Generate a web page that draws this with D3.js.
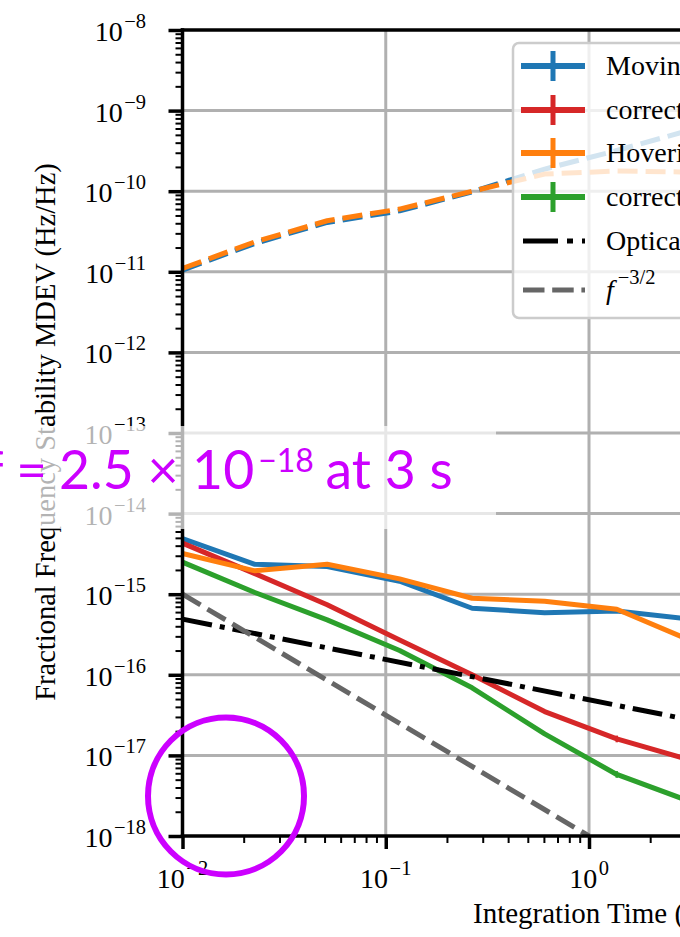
<!DOCTYPE html>
<html><head><meta charset="utf-8">
<script src="https://cdn.jsdelivr.net/npm/d3@7/dist/d3.min.js"></script>
<style>html,body{margin:0;padding:0;background:#fff;overflow:hidden}</style>
</head><body>
<svg id="c" width="680" height="937" xmlns="http://www.w3.org/2000/svg"></svg>
<script>
// ---------------- data ----------------
const taus = [0.01, 0.0227, 0.0515, 0.117, 0.266, 0.605, 1.37, 3.12];
const movingMdev      = [4.9e-15, 2.35e-15, 2.2e-15, 1.45e-15, 6.7e-16, 5.9e-16, 6.2e-16, 4.9e-16];
const movingCorrected = [4.3e-15, 1.8e-15, 7.4e-16, 2.7e-16, 1.0e-16, 3.5e-17, 1.6e-17, 8.8e-18];
const hoveringMdev    = [3.2e-15, 1.95e-15, 2.35e-15, 1.55e-15, 8.9e-16, 8.2e-16, 6.5e-16, 2.7e-16];
const hoveringCorrected = [2.5e-15, 1.05e-15, 4.8e-16, 2.0e-16, 6.9e-17, 1.85e-17, 5.8e-18, 2.7e-18];
const relErrCorrected = [0, 0, 0, 0, 0, 0, 0.1, 0.15];
const movingRaw   = [1.05e-11, 2.25e-11, 4.1e-11, 5.7e-11, 0.98e-10, 1.88e-10, 3.2e-10, 5.7e-10];
const hoveringRaw = [1.1e-11, 2.35e-11, 4.3e-11, 6.0e-11, 1.0e-10, 1.63e-10, 1.78e-10, 1.73e-10];
const opticalTaus = [0.01, 3.12];
const opticalMdev = [4.9e-16, 2.77e-17];
const slopeTaus = [0.01, 1];
const slopeMdev = [1e-15, 1e-18];

const yMajorExps = [-18, -17, -16, -15, -14, -13, -12, -11, -10, -9, -8];
const xMajorExps = [-2, -1, 0];
const legendLabels = ["Moving platform", "corrected moving", "Hovering", "corrected hovering", "Optical cavity", "f^-3/2"];
const yTitle = "Fractional Frequency Stability MDEV (Hz/Hz)";
const xTitle = "Integration Time (s)";
const noteMain = "2.5 \u00d7 10";
const noteSup = "\u221218";
const noteTail = " at 3 s";
const notePrefix = "\u0394f/f =";

// ---------------- layout ----------------
const W = 680, H = 937;
const X0 = 182.5, X1 = 589, Y0 = 30, Y1 = 836;
const x = d3.scaleLog().domain([1e-2, 1]).range([X0, X1]);
const y = d3.scaleLog().domain([1e-18, 1e-8]).range([Y1, Y0]);
const serif = "'Liberation Serif','Times New Roman',serif";
const FS = 28, FSUP = 20.5;
const C = {blue: "#1f77b4", red: "#d62728", orange: "#ff7f0e", green: "#2ca02c", grid: "#b0b0b0", gray: "#666666", mag: "#cc00ff"};

const svg = d3.select("#c");
svg.append("rect").attr("width", W).attr("height", H).attr("fill", "#fff");
svg.append("defs").append("clipPath").attr("id", "plot")
  .append("rect").attr("x", X0).attr("y", Y0).attr("width", 700).attr("height", Y1 - Y0);

// grid
const grid = svg.append("g").attr("stroke", C.grid).attr("stroke-width", 3);
grid.selectAll("line.h").data(yMajorExps.slice(1, -1)).join("line")
  .attr("x1", X0).attr("x2", W + 10)
  .attr("y1", d => y(Math.pow(10, d))).attr("y2", d => y(Math.pow(10, d)));
grid.selectAll("line.v").data(xMajorExps.slice(1)).join("line")
  .attr("y1", Y0).attr("y2", Y1)
  .attr("x1", d => x(Math.pow(10, d))).attr("x2", d => x(Math.pow(10, d)));

// lines
const plot = svg.append("g").attr("clip-path", "url(#plot)");
const line = d3.line().x(d => x(d[0])).y(d => y(d[1]));
const zip = (a, b) => a.map((t, i) => [t, b[i]]);

function draw(vals, color, width, dash, ts = taus) {
  plot.append("path").datum(zip(ts, vals)).attr("d", line)
    .attr("fill", "none").attr("stroke", color).attr("stroke-width", width)
    .attr("stroke-linejoin", "round")
    .attr("stroke-dasharray", dash || null);
}
function errs(vals, rel, color) {
  plot.append("g").selectAll("line").data(zip(taus, vals).map((d, i) => [d[0], d[1], rel[i]]).filter(d => d[2] > 0))
    .join("line")
    .attr("x1", d => x(d[0])).attr("x2", d => x(d[0]))
    .attr("y1", d => y(d[1] * (1 + d[2]))).attr("y2", d => y(d[1] / (1 + d[2])))
    .attr("stroke", color).attr("stroke-width", 2.5);
}
draw(movingRaw, C.blue, 5, "20 8");
draw(hoveringRaw, C.orange, 5, "20 8");
draw(movingMdev, C.blue, 5);
draw(movingCorrected, C.red, 5); errs(movingCorrected, relErrCorrected, C.red);
draw(hoveringMdev, C.orange, 5);
draw(hoveringCorrected, C.green, 5); errs(hoveringCorrected, relErrCorrected, C.green);
draw(opticalMdev, "#000", 5, "30 8 5 8", opticalTaus);
draw(slopeMdev, C.gray, 5, "21 8", slopeTaus);

// axes ticks
const yMinor = [], xMinor = [];
yMajorExps.slice(0, -1).forEach(e => { for (let k = 2; k <= 9; k++) yMinor.push(k * Math.pow(10, e)); });
xMajorExps.forEach(e => { for (let k = 2; k <= 9; k++) { const v = k * Math.pow(10, e); if (v < 3) xMinor.push(v); } });
const yMaj = yMajorExps.map(e => Math.pow(10, e));
const xMaj = xMajorExps.map(e => Math.pow(10, e));

function styleAxis(g, w) {
  g.select(".domain").remove();
  g.selectAll(".tick line").attr("stroke", "#000").attr("stroke-width", w);
  g.selectAll(".tick text").remove();
}
svg.append("g").attr("transform", `translate(${X0},0)`)
  .call(d3.axisLeft(y).tickValues(yMinor).tickSize(7).tickFormat("")).call(g => styleAxis(g, 2));
svg.append("g").attr("transform", `translate(${X0},0)`)
  .call(d3.axisLeft(y).tickValues(yMaj).tickSize(14).tickFormat("")).call(g => styleAxis(g, 3.5));
svg.append("g").attr("transform", `translate(0,${Y1})`)
  .call(d3.axisBottom(x).tickValues(xMinor).tickSize(7).tickFormat("")).call(g => styleAxis(g, 2));
svg.append("g").attr("transform", `translate(0,${Y1})`)
  .call(d3.axisBottom(x).tickValues(xMaj).tickSize(13).tickFormat("")).call(g => styleAxis(g, 3.5));

// spines
const sp = svg.append("g").attr("stroke", "#000").attr("stroke-width", 3.5).attr("stroke-linecap", "square");
sp.append("line").attr("x1", X0).attr("x2", X0).attr("y1", Y0).attr("y2", Y1);
sp.append("line").attr("x1", X0).attr("x2", W + 10).attr("y1", Y0).attr("y2", Y0);
sp.append("line").attr("x1", X0).attr("x2", W + 10).attr("y1", Y1).attr("y2", Y1);

// tick labels
const yl = svg.append("g").attr("font-family", serif).attr("fill", "#000");
yMajorExps.forEach(e => {
  const t = yl.append("text").attr("x", 146).attr("y", y(Math.pow(10, e)) + 11)
    .attr("text-anchor", "end").attr("font-size", FS);
  t.append("tspan").text("10");
  t.append("tspan").attr("font-size", FSUP).attr("dy", -13).attr("dx", 1.5).text("\u2212" + Math.abs(e));
});
xMajorExps.forEach(e => {
  const t = yl.append("text").attr("x", x(Math.pow(10, e))).attr("y", 888)
    .attr("text-anchor", "middle").attr("font-size", FS);
  t.append("tspan").text("10");
  t.append("tspan").attr("font-size", FSUP).attr("dy", -13).attr("dx", 1.5).text(e < 0 ? "\u2212" + Math.abs(e) : String(e));
});

// axis titles
svg.append("text").attr("font-family", serif).attr("font-size", 28.5)
  .attr("transform", `translate(55,432) rotate(-90)`).attr("text-anchor", "middle").text(yTitle);
svg.append("text").attr("font-family", serif).attr("font-size", 29)
  .attr("x", 473).attr("y", 923).text(xTitle);

// legend
const lg = svg.append("g");
lg.append("rect").attr("x", 513).attr("y", 43).attr("width", 400).attr("height", 275).attr("rx", 6)
  .attr("fill", "#fff").attr("fill-opacity", 0.8).attr("stroke", "#cccccc").attr("stroke-width", 2.5);
const rowY = [66, 110, 153, 197, 241, 290];
const handleColors = [C.blue, C.red, C.orange, C.green];
legendLabels.forEach((lab, i) => {
  const cy = rowY[i];
  if (i < 4) {
    lg.append("line").attr("x1", 521).attr("x2", 585).attr("y1", cy).attr("y2", cy)
      .attr("stroke", handleColors[i]).attr("stroke-width", 6);
    lg.append("line").attr("x1", 553).attr("x2", 553).attr("y1", cy - 15).attr("y2", cy + 15)
      .attr("stroke", handleColors[i]).attr("stroke-width", 5);
  } else {
    lg.append("line").attr("x1", 523).attr("x2", 585).attr("y1", cy).attr("y2", cy)
      .attr("stroke", i === 4 ? "#000" : C.gray).attr("stroke-width", 5)
      .attr("stroke-dasharray", i === 4 ? "35 9 6 9" : "21.5 7.7");
  }
  const t = lg.append("text").attr("font-family", serif).attr("font-size", FS).attr("x", 606).attr("y", cy + 9);
  if (lab.startsWith("f^")) {
    t.append("tspan").attr("font-style", "italic").text("f");
    t.append("tspan").attr("font-size", FSUP).attr("dy", -15).attr("dx", 4).text("\u22123/2");
  } else t.text(lab);
});

// annotation overlay
svg.append("rect").attr("x", 0).attr("y", 426).attr("width", 496).attr("height", 103)
  .attr("fill", "#fff").attr("fill-opacity", 0.7);
const sans = "Lato, 'Open Sans', sans-serif";
svg.append("text").attr("font-family", sans).attr("font-size", 53).attr("fill", C.mag)
  .attr("x", 47).attr("y", 489).attr("text-anchor", "end").text(notePrefix);
const nt = svg.append("text").attr("font-family", sans).attr("font-size", 53.5).attr("fill", C.mag)
  .attr("x", 59).attr("y", 489);
nt.append("tspan").text(noteMain);
nt.append("tspan").attr("font-size", 32).attr("dy", -17).attr("dx", 4).text(noteSup);
nt.append("tspan").attr("dy", 17).attr("dx", -2).text(noteTail);

svg.append("ellipse").attr("cx", 226).attr("cy", 796).attr("rx", 78).attr("ry", 78.5)
  .attr("fill", "none").attr("stroke", C.mag).attr("stroke-width", 6);
</script>
</body></html>
